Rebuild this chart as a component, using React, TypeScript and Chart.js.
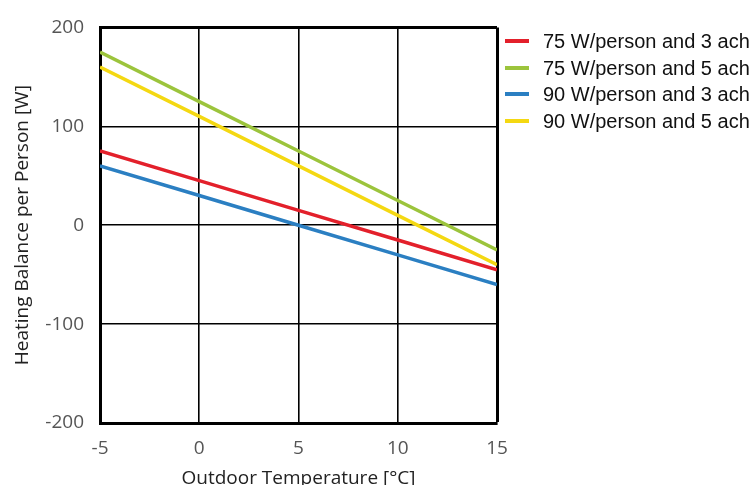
import React, { useEffect, useRef } from "react";
import { Chart, registerables } from "chart.js";

Chart.register(...registerables);

const temps = [-5, 0, 5, 10, 15];
const red75w3ach = [75, 45, 15, -15, -45];
const green75w5ach = [175, 125, 75, 25, -25];
const blue90w3ach = [60, 30, 0, -30, -60];
const yellow90w5ach = [160, 110, 60, 10, -40];
const seriesLabels = [
  "75 W/person and 3 ach",
  "75 W/person and 5 ach",
  "90 W/person and 3 ach",
  "90 W/person and 5 ach",
];
const seriesColors = ["#e3202b", "#9cc43c", "#2b7fc2", "#f4d812"];
const xTitle = "Outdoor Temperature [°C]";
const yTitle = "Heating Balance per Person [W]";

export default function App() {
  const ref = useRef<HTMLCanvasElement | null>(null);
  useEffect(() => {
    if (!ref.current) return;
    const seriesData = [red75w3ach, green75w5ach, blue90w3ach, yellow90w5ach];
    const chart = new Chart(ref.current, {
      type: "line",
      data: {
        datasets: seriesData.map((vals, i) => ({
          label: seriesLabels[i],
          data: vals.map((v, j) => ({ x: temps[j], y: v })),
          borderColor: seriesColors[i],
          backgroundColor: seriesColors[i],
          borderWidth: 3.5,
          pointRadius: 0,
          tension: 0,
        })),
      },
      options: {
        animation: false,
        responsive: false,
        maintainAspectRatio: false,
        layout: { padding: { top: 26, right: 257, left: 0, bottom: 0 } },
        plugins: { legend: { display: false }, tooltip: { enabled: false } },
        scales: {
          x: {
            type: "linear",
            min: -5,
            max: 15,
            ticks: {
              stepSize: 5,
              color: "#555",
              padding: 14,
              font: { family: "'Open Sans'", size: 19 },
            },
            grid: {
              color: "#000",
              drawTicks: false,
              lineWidth: (ctx: any) => (ctx.tick && ctx.tick.value === 15 ? 3 : 1.6),
            },
            border: { color: "#000", width: 3 },
            title: {
              display: true,
              text: xTitle,
              color: "#222",
              padding: { top: 0, bottom: -3 },
              font: { family: "'Open Sans'", size: 19, lineHeight: 1 },
            },
            afterFit: (s: any) => {
              s.height = 62;
            },
          },
          y: {
            min: -200,
            max: 200,
            ticks: {
              stepSize: 100,
              color: "#555",
              padding: 16,
              font: { family: "'Open Sans'", size: 19 },
            },
            grid: {
              color: "#000",
              drawTicks: false,
              lineWidth: (ctx: any) => (ctx.tick && ctx.tick.value === 200 ? 3 : 1.6),
            },
            border: { color: "#000", width: 3 },
            title: {
              display: true,
              text: yTitle,
              color: "#222",
              padding: { top: 13, bottom: 0 },
              font: { family: "'Open Sans'", size: 19, lineHeight: 1 },
            },
            afterFit: (s: any) => {
              s.width = 100;
            },
          },
        },
      },
    });
    return () => chart.destroy();
  }, []);

  const legendY = [41, 67.5, 94, 121];
  return (
    <div style={{ position: "fixed", left: 0, top: 0, width: 754, height: 485, background: "#fff" }}>
      <canvas ref={ref} width={754} height={485} style={{ position: "absolute", left: 0, top: 0 }} />
      {seriesLabels.map((lab, i) => (
        <div key={lab}>
          <div
            style={{
              position: "absolute",
              left: 505,
              top: legendY[i] - 2,
              width: 24,
              height: 4,
              background: seriesColors[i],
            }}
          />
          <div
            style={{
              position: "absolute",
              left: 543,
              top: legendY[i] - 12,
              height: 24,
              lineHeight: "24px",
              fontFamily: "'Liberation Sans', Arial, sans-serif",
              fontSize: 20,
              color: "#111",
              whiteSpace: "nowrap",
            }}
          >
            {lab}
          </div>
        </div>
      ))}
    </div>
  );
}
